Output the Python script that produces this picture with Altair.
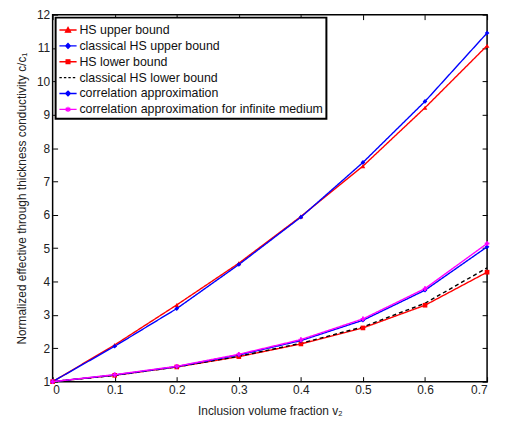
import altair as alt
import pandas as pd

v2 = [0, 0.1, 0.2, 0.3, 0.4, 0.5, 0.6, 0.7]
series_names = [
    "HS upper bound",
    "classical HS upper bound",
    "HS lower bound",
    "classical HS lower bound",
    "correlation approximation",
    "correlation approximation for infinite medium",
]
hs_upper = [1, 2.1, 3.3, 4.55, 5.95, 7.46, 9.21, 11.07]
classical_hs_upper = [1, 2.06, 3.19, 4.51, 5.93, 7.57, 9.40, 11.45]
hs_lower = [1, 1.19, 1.44, 1.75, 2.13, 2.61, 3.29, 4.28]
classical_hs_lower = [1, 1.19, 1.44, 1.76, 2.15, 2.64, 3.35, 4.41]
correlation = [1, 1.2, 1.45, 1.8, 2.23, 2.84, 3.74, 5.04]
correlation_inf = [1, 1.21, 1.46, 1.82, 2.26, 2.88, 3.79, 5.14]

colors = ["#ff0000", "#0000ff", "#ff0000", "#000000", "#0000ff", "#ff00ff"]
dashes = [[1, 0], [1, 0], [1, 0], [4, 3], [1, 0], [1, 0]]
legend_paths = [
    "M-1,0L1,0M0,-0.3L0.3,0.25L-0.3,0.25Z",
    "M-1,0L1,0M0,-0.28L0.28,0L0,0.28L-0.28,0Z",
    "M-1,0L1,0M-0.22,-0.22L0.22,-0.22L0.22,0.22L-0.22,0.22Z",
    "M-1,0L-0.72,0M-0.48,0L-0.2,0M0.04,0L0.32,0M0.56,0L0.84,0",
    "M-1,0L1,0M0,-0.28L0.28,0L0,0.28L-0.28,0Z",
    "M-1,0L1,0M0,-0.3L0,0.3M-0.26,-0.18L0.26,0.18M-0.26,0.18L0.26,-0.18",
]
marker_shapes = ["triangle-up", "diamond", "square", None, "diamond", "cross"]

all_vals = [hs_upper, classical_hs_upper, hs_lower, classical_hs_lower, correlation, correlation_inf]
rows = []
for name, vals in zip(series_names, all_vals):
    for x, y in zip(v2, vals):
        rows.append({"v2": x, "c": y, "series": name})
df = pd.DataFrame(rows)

FONT = "Liberation Sans"

x_scale = alt.Scale(domain=[0, 0.7], nice=False, zero=False)
y_scale = alt.Scale(domain=[1, 12], nice=False, zero=False)
color = alt.Color("series:N", scale=alt.Scale(domain=series_names, range=colors), sort=series_names)

def xax(orient, labels):
    kw = dict(orient=orient, values=v2, tickSize=5, offset=-5, domain=False, grid=False,
              tickColor="black", tickWidth=1)
    if labels:
        kw.update(labelExpr="datum.value == 0 ? '0' : format(datum.value, '.1f')",
                  title="Inclusion volume fraction v₂",
                  labelColor="#222", labelFontSize=12, labelFont=FONT,
                  labelPadding=3, titleFont=FONT, titleFontSize=12, titleFontWeight="normal",
                  titleColor="#222", titlePadding=10)
    else:
        kw.update(labels=False, title=None)
    return alt.Axis(**kw)

def yax(orient, labels):
    kw = dict(orient=orient, values=list(range(1, 13)), tickSize=5, offset=-5, domain=False,
              grid=False, tickColor="black", tickWidth=1)
    if labels:
        kw.update(title="Normalized effective through thickness conductivity c/c₁",
                  labelColor="#222", labelFontSize=12, labelFont=FONT,
                  labelPadding=3, titleFont=FONT, titleFontSize=12, titleFontWeight="normal",
                  titleColor="#222", titlePadding=8)
    else:
        kw.update(labels=False, title=None)
    return alt.Axis(**kw)

base = alt.Chart(df)

lines = base.mark_line(strokeWidth=1.4).encode(
    x=alt.X("v2:Q", scale=x_scale, axis=xax("bottom", True)),
    y=alt.Y("c:Q", scale=y_scale, axis=yax("left", True)),
    color=color,
    strokeDash=alt.StrokeDash("series:N", scale=alt.Scale(domain=series_names, range=dashes), legend=None),
    detail="series:N",
)

point_layers = []
for name, shp in zip(series_names, marker_shapes):
    if shp is None:
        continue
    point_layers.append(
        base.transform_filter(alt.datum.series == name).mark_point(
            shape=shp, filled=True, size=22, opacity=1
        ).encode(
            x=alt.X("v2:Q", scale=x_scale, axis=None),
            y=alt.Y("c:Q", scale=y_scale, axis=None),
            color=color,
        )
    )

leg = dict(title=None, orient="top-left", offset=3,
           labelFont=FONT, labelFontSize=12.5, labelColor="#111",
           labelLimit=400, symbolSize=300, rowPadding=0,
           symbolStrokeWidth=1.3, strokeColor="black", fillColor="white",
           padding=3, labelOffset=2)

legend_layer = base.transform_filter("false").mark_point(filled=False, strokeWidth=1.3, opacity=1).encode(
    x=alt.X("v2:Q", scale=x_scale, axis=xax("top", False)),
    y=alt.Y("c:Q", scale=y_scale, axis=yax("right", False)),
    color=alt.Color("series:N", scale=alt.Scale(domain=series_names, range=colors), sort=series_names,
                    legend=alt.Legend(**leg)),
    shape=alt.Shape("series:N", scale=alt.Scale(domain=series_names, range=legend_paths), sort=series_names,
                    legend=alt.Legend(**leg)),
)

chart = alt.layer(lines, *point_layers, legend_layer).resolve_axis(
    x="independent", y="independent"
).properties(
    width=438, height=370,
    padding={"left": 45, "top": 5, "right": 10, "bottom": 40},
    autosize=alt.AutoSizeParams(type="none"),
).configure_view(stroke="black", strokeWidth=1.5).configure_legend(strokeWidth=2)

chart.save("out.html", embed_options={"renderer": "svg", "actions": False})
